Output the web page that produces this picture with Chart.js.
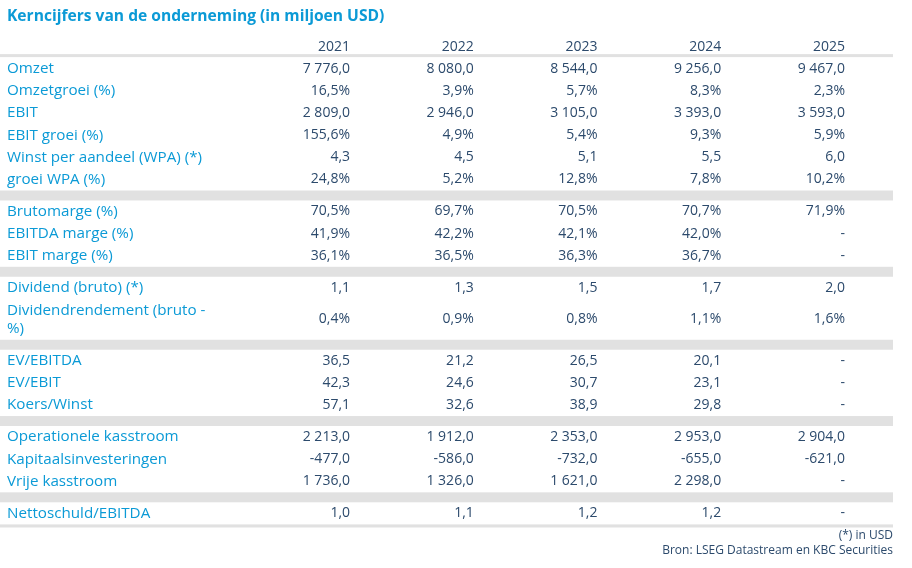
<!DOCTYPE html>
<html>
<head>
<meta charset="utf-8">
<script src="https://cdn.jsdelivr.net/npm/chart.js@4.4.1/dist/chart.umd.min.js"></script>
<style>
html, body { margin: 0; padding: 0; background: #fff; }
#wrap { width: 912px; height: 568px; }
</style>
</head>
<body>
<div id="wrap"><canvas id="kern"></canvas></div>
<script>
// Table data
const years = ['2021', '2022', '2023', '2024', '2025'];
const rowLabels = [
    'Omzet', 'Omzetgroei (%)', 'EBIT', 'EBIT groei (%)', 'Winst per aandeel (WPA) (*)', 'groei WPA (%)',
    'Brutomarge (%)', 'EBITDA marge (%)', 'EBIT marge (%)',
    'Dividend (bruto) (*)', ['Dividendrendement (bruto -', '%)'],
    'EV/EBITDA', 'EV/EBIT', 'Koers/Winst',
    'Operationele kasstroom', 'Kapitaalsinvesteringen', 'Vrije kasstroom',
    'Nettoschuld/EBITDA'
];
const groupSizes = [6, 3, 2, 3, 3, 1];
const v2021 = [7776.0, 16.5, 2809.0, 155.6, 4.3, 24.8, 70.5, 41.9, 36.1, 1.1, 0.4, 36.5, 42.3, 57.1, 2213.0, -477.0, 1736.0, 1.0];
const v2022 = [8080.0, 3.9, 2946.0, 4.9, 4.5, 5.2, 69.7, 42.2, 36.5, 1.3, 0.9, 21.2, 24.6, 32.6, 1912.0, -586.0, 1326.0, 1.1];
const v2023 = [8544.0, 5.7, 3105.0, 5.4, 5.1, 12.8, 70.5, 42.1, 36.3, 1.5, 0.8, 26.5, 30.7, 38.9, 2353.0, -732.0, 1621.0, 1.2];
const v2024 = [9256.0, 8.3, 3393.0, 9.3, 5.5, 7.8, 70.7, 42.0, 36.7, 1.7, 1.1, 20.1, 23.1, 29.8, 2953.0, -655.0, 2298.0, 1.2];
const v2025 = [9467.0, 2.3, 3593.0, 5.9, 6.0, 10.2, 71.9, null, null, 2.0, 1.6, null, null, null, 2904.0, -621.0, null, null];
const seriesValues = [v2021, v2022, v2023, v2024, v2025];
const footLines = ['(*) in USD', 'Bron: LSEG Datastream en KBC Securities'];

const blue = '#0b9ad6';
const navy = '#2c4a6c';
const bandGrey = '#e1e1e1';
const FONT = "'Open Sans', sans-serif";

// row layout, in row units (y scale)
const ROW = 1, TWO_LINE = 1.85, BAND = 0.45, TOP_GAP = 0.1, BOTTOM_LINE = 0.14;
const rowCenters = [];
const bandRanges = [];
let pos = TOP_GAP, r = 0;
groupSizes.forEach((n, g) => {
    for (let k = 0; k < n; k++, r++) {
        const h = Array.isArray(rowLabels[r]) ? TWO_LINE : ROW;
        rowCenters.push(pos + h / 2);
        pos += h;
    }
    const bh = g < groupSizes.length - 1 ? BAND : BOTTOM_LINE;
    bandRanges.push([pos, pos + bh]);
    pos += bh;
});
const totalUnits = pos;

function isPct(label) {
    return [].concat(label).join(' ').includes('%');
}
function fmt(v, pct) {
    if (v === null) return '-';
    let [i, d] = Math.abs(v).toFixed(1).split('.');
    i = i.replace(/\B(?=(\d{3})+(?!\d))/g, ' ');
    return (v < 0 ? '-' : '') + i + ',' + d + (pct ? '%' : '');
}

const tablePlugin = {
    id: 'tablePlugin',
    beforeDatasetsDraw(chart) {
        const {ctx, chartArea, scales: {y}} = chart;
        ctx.save();
        ctx.fillStyle = bandGrey;
        // header rule
        ctx.fillRect(0, chartArea.top - 1.5, chartArea.right, 3);
        bandRanges.forEach(([a, b]) => {
            const y0 = y.getPixelForValue(a), y1 = y.getPixelForValue(b);
            ctx.fillRect(0, y0, chartArea.right, y1 - y0);
        });
        // row labels
        ctx.fillStyle = blue;
        ctx.font = `15.2px ${FONT}`;
        ctx.textAlign = 'left';
        ctx.textBaseline = 'middle';
        rowLabels.forEach((label, i) => {
            const cy = y.getPixelForValue(rowCenters[i]);
            const lines = [].concat(label);
            lines.forEach((t, k) => {
                ctx.fillText(t, chartArea.left, cy + (k - (lines.length - 1) / 2) * 18);
            });
        });
        ctx.restore();
    },
    afterDatasetsDraw(chart) {
        const {ctx} = chart;
        ctx.save();
        ctx.fillStyle = navy;
        ctx.font = `14px ${FONT}`;
        ctx.textAlign = 'right';
        ctx.textBaseline = 'middle';
        chart.data.datasets.forEach((ds, di) => {
            chart.getDatasetMeta(di).data.forEach((el, j) => {
                ctx.fillText(fmt(seriesValues[di][j], isPct(rowLabels[j])), el.x, el.y);
            });
        });
        ctx.restore();
    }
};

new Chart(document.getElementById('kern'), {
    type: 'scatter',
    data: {
        datasets: seriesValues.map((vals, di) => ({
            label: years[di],
            data: vals.map((v, j) => ({x: di + 1, y: rowCenters[j]})),
            pointRadius: 0,
            pointHoverRadius: 0
        }))
    },
    options: {
        responsive: true,
        maintainAspectRatio: false,
        animation: false,
        layout: {padding: {left: 7, right: 19, top: 0, bottom: 0}},
        plugins: {
            legend: {display: false},
            tooltip: {enabled: false},
            title: {
                display: true,
                text: 'Kerncijfers van de onderneming (in miljoen USD)',
                align: 'start',
                color: blue,
                font: {family: FONT, size: 15.6, weight: 'bold'},
                padding: {top: 7, bottom: 11.9}
            },
            subtitle: {
                display: true,
                position: 'bottom',
                align: 'end',
                text: footLines,
                color: navy,
                font: {family: FONT, size: 12},
                padding: {top: 1.3, bottom: 10.4}
            }
        },
        scales: {
            x: {
                type: 'linear',
                position: 'top',
                min: -1.772,
                max: 5.388,
                grid: {display: false, drawTicks: false},
                border: {display: false},
                afterBuildTicks: s => { s.ticks = years.map((_, i) => ({value: i + 1})); },
                ticks: {
                    autoSkip: false,
                    maxRotation: 0,
                    align: 'end',
                    padding: 0.6,
                    color: navy,
                    font: {family: FONT, size: 14},
                    callback: v => years[v - 1]
                }
            },
            y: {
                type: 'linear',
                display: false,
                reverse: true,
                min: 0,
                max: totalUnits
            }
        }
    },
    plugins: [tablePlugin]
});
</script>
</body>
</html>
